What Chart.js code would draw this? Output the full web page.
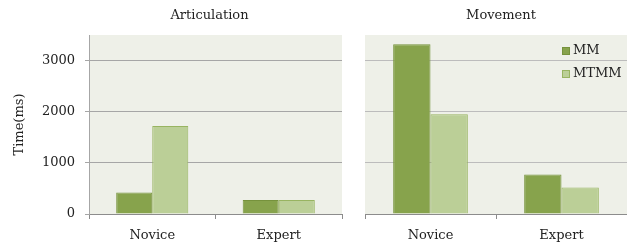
<!DOCTYPE html>
<html>
<head>
<meta charset="utf-8">
<script src="https://cdn.jsdelivr.net/npm/chart.js@4/dist/chart.umd.min.js"></script>
<style>
  body { margin: 0; background: #fff; }
  .panel { position: absolute; top: 0; height: 248px; }
  #p1 { left: 0; width: 345px; }
  #p2 { left: 345px; width: 282px; }
</style>
</head>
<body>
<div class="panel" id="p1"><canvas id="c1"></canvas></div>
<div class="panel" id="p2"><canvas id="c2"></canvas></div>
<script>
var categories = ['Novice', 'Expert'];
var seriesNames = ['MM', 'MTMM'];
var articulationMM = [420, 275];
var articulationMTMM = [1720, 275];
var movementMM = [3320, 770];
var movementMTMM = [1950, 520];
var yTicks = [0, 1000, 2000, 3000];

var fillColors = ['#87a34c', '#bbcf97'];
var lineColors = ['#76923c', '#98b461'];
var FONT = 'DejaVu Serif';

// plot area background
var bgPlugin = {
  id: 'bg',
  beforeDraw: function (chart) {
    var a = chart.chartArea, ctx = chart.ctx;
    ctx.save();
    ctx.fillStyle = '#eef0e8';
    ctx.fillRect(a.left, a.top, a.right - a.left, a.bottom - a.top);
    ctx.restore();
  }
};

// panel title centred over the plot area
var panelTitle = {
  id: 'panelTitle',
  afterDraw: function (chart, args, opts) {
    var ctx = chart.ctx, a = chart.chartArea;
    ctx.save();
    ctx.font = '13px "' + FONT + '"';
    ctx.fillStyle = '#222';
    ctx.textAlign = 'center';
    ctx.textBaseline = 'middle';
    ctx.fillText(opts.text, (a.left + a.right) / 2 + opts.dx, 16);
    ctx.restore();
  }
};

// legend drawn inside the plot area (top right)
var boxLegend = {
  id: 'boxLegend',
  afterDraw: function (chart, args, opts) {
    if (!opts.show) return;
    var ctx = chart.ctx, a = chart.chartArea;
    ctx.save();
    ctx.font = '13px "' + FONT + '"';
    ctx.textBaseline = 'middle';
    chart.data.datasets.forEach(function (ds, i) {
      var y = a.top + 16 + i * 23;
      var x = a.left + 197;
      ctx.fillStyle = ds.backgroundColor;
      ctx.strokeStyle = ds.borderColor;
      ctx.lineWidth = 1;
      ctx.fillRect(x, y - 4, 8, 8);
      ctx.strokeRect(x + 0.5, y - 3.5, 7, 7);
      ctx.fillStyle = '#222';
      ctx.fillText(ds.label, x + 11, y);
    });
    ctx.restore();
  }
};

function makeChart(id, title, mmData, mtmmData, isLeft) {
  var ctx = document.getElementById(id);
  return new Chart(ctx, {
    type: 'bar',
    data: {
      labels: categories,
      datasets: [
        { label: seriesNames[0], data: mmData, backgroundColor: fillColors[0], borderColor: lineColors[0], borderWidth: 1 },
        { label: seriesNames[1], data: mtmmData, backgroundColor: fillColors[1], borderColor: lineColors[1], borderWidth: 1 }
      ]
    },
    options: {
      responsive: true,
      maintainAspectRatio: false,
      animation: false,
      categoryPercentage: 0.57,
      barPercentage: 1.0,
      layout: { padding: { left: 0, right: isLeft ? 3 : 0, top: 35, bottom: 0 } },
      plugins: {
        legend: { display: false },
        tooltip: { enabled: false },
        title: { display: false },
        boxLegend: { show: !isLeft },
        panelTitle: { text: title, dx: isLeft ? -6 : 5 }
      },
      scales: {
        x: {
          grid: { drawOnChartArea: false, drawTicks: true, tickLength: 5, color: '#8c8c8c', offset: true },
          border: { display: true, color: '#8c8c8c' },
          ticks: { color: '#222', padding: 9, font: { family: FONT, size: 13 } },
          afterFit: function (s) { s.height = 34; }
        },
        y: {
          min: 0,
          max: 3500,
          afterBuildTicks: function (s) {
            s.ticks = yTicks.map(function (v) { return { value: v }; });
          },
          grid: {
            color: isLeft ? '#a6a6a6' : '#bcbcbc',
            lineWidth: 1,
            drawTicks: isLeft,
            tickLength: 4
          },
          border: { display: isLeft, color: '#a6a6a6' },
          ticks: {
            display: isLeft,
            color: '#222',
            padding: 10,
            font: { family: FONT, size: 13 },
            callback: function (v) { return String(v); }
          },
          title: {
            display: isLeft,
            text: 'Time(ms)',
            color: '#222',
            font: { family: FONT, size: 13 },
            padding: { top: 12, bottom: 0 }
          },
          afterFit: function (s) { s.width = isLeft ? 89 : 20; }
        }
      }
    },
    plugins: [bgPlugin, panelTitle, boxLegend]
  });
}

makeChart('c1', 'Articulation', articulationMM, articulationMTMM, true);
makeChart('c2', 'Movement', movementMM, movementMTMM, false);
</script>
</body>
</html>
